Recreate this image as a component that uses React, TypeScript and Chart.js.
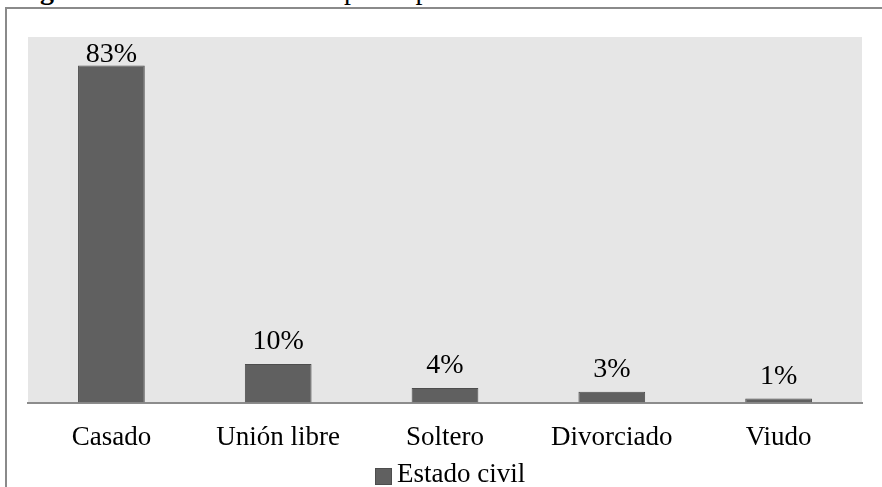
import React, { useEffect, useRef } from "react";
import { Chart, registerables } from "chart.js";

Chart.register(...registerables);

const categories = ["Casado", "Unión libre", "Soltero", "Divorciado", "Viudo"];
const values = [83, 9.5, 3.6, 2.7, 1.0];
const seriesLabel = "Estado civil";
const yMin = 0;
const yMax = 90;
const captionBold = "Figura 1.";
const captionText = " Estado civil de los participantes";

const FONT = "'Liberation Serif', 'Times New Roman', serif";
const BAR_FILL = "#606060";
const BAR_EDGE = "#4d4d4d";

const plotBg = {
  id: "plotBg",
  beforeDraw(chart: any) {
    const { ctx, chartArea } = chart;
    ctx.save();
    ctx.fillStyle = "#e6e6e6";
    ctx.fillRect(chartArea.left, chartArea.top, chartArea.right - chartArea.left, chartArea.bottom - chartArea.top);
    ctx.restore();
  },
};

const valueLabels = {
  id: "valueLabels",
  afterDatasetsDraw(chart: any) {
    const { ctx, chartArea } = chart;
    const meta = chart.getDatasetMeta(0);
    ctx.save();
    ctx.font = `28px ${FONT}`;
    ctx.fillStyle = "#000";
    ctx.textAlign = "center";
    ctx.textBaseline = "alphabetic";
    meta.data.forEach((bar: any, i: number) => {
      const v = chart.data.datasets[0].data[i] as number;
      let y = bar.y - 15;
      const minY = chartArea.top + 25;
      if (y < minY) y = minY;
      ctx.fillText(Math.round(v) + "%", bar.x, y);
    });
    ctx.restore();
  },
};

export default function App() {
  const ref = useRef<HTMLCanvasElement | null>(null);

  useEffect(() => {
    if (!ref.current) return;
    const chart = new Chart(ref.current, {
      type: "bar",
      data: {
        labels: categories,
        datasets: [
          {
            label: seriesLabel,
            data: values,
            backgroundColor: BAR_FILL,
            borderColor: BAR_EDGE,
            borderWidth: 1,
            categoryPercentage: 1,
            barPercentage: 0.4,
          },
        ],
      },
      options: {
        animation: false,
        responsive: false,
        maintainAspectRatio: false,
        layout: { padding: { left: 28, top: 37, right: 20, bottom: 14 } },
        plugins: {
          legend: { display: false },
          tooltip: { enabled: false },
          title: { display: false },
        },
        scales: {
          x: {
            grid: { display: false, drawTicks: false },
            border: { display: true, color: "#8c8c8c", width: 2 },
            ticks: {
              color: "#000",
              padding: 19,
              font: { family: FONT, size: 27 },
              maxRotation: 0,
              autoSkip: false,
            },
          },
          y: {
            display: false,
            min: yMin,
            max: yMax,
          },
        },
      },
      plugins: [plotBg, valueLabels],
    });
    return () => chart.destroy();
  }, []);

  return (
    <div
      style={{
        position: "fixed",
        left: 0,
        top: 0,
        width: 882,
        height: 487,
        overflow: "hidden",
        background: "#fff",
        fontFamily: FONT,
      }}
    >
      <div
        style={{
          position: "absolute",
          left: 15,
          top: -25,
          whiteSpace: "nowrap",
          fontSize: 28,
          lineHeight: "30px",
          color: "#000",
        }}
      >
        <b>{captionBold}</b>
        {captionText}
      </div>
      <div
        style={{
          position: "absolute",
          left: 5,
          top: 7,
          width: 1000,
          height: 1000,
          borderLeft: "2px solid #8a8a8a",
          borderTop: "2px solid #8a8a8a",
          boxSizing: "border-box",
        }}
      />
      <canvas
        ref={ref}
        width={882}
        height={487}
        style={{ position: "absolute", left: 0, top: 0, width: 882, height: 487 }}
      />
      <div
        style={{
          position: "absolute",
          left: 375,
          top: 457,
          display: "flex",
          alignItems: "center",
          whiteSpace: "nowrap",
          fontSize: 27,
          lineHeight: "32px",
          color: "#000",
        }}
      >
        <span
          style={{
            display: "inline-block",
            width: 15,
            height: 15,
            background: BAR_FILL,
            border: `1px solid ${BAR_EDGE}`,
            marginRight: 5,
            marginTop: 6,
          }}
        />
        <span>{seriesLabel}</span>
      </div>
    </div>
  );
}
